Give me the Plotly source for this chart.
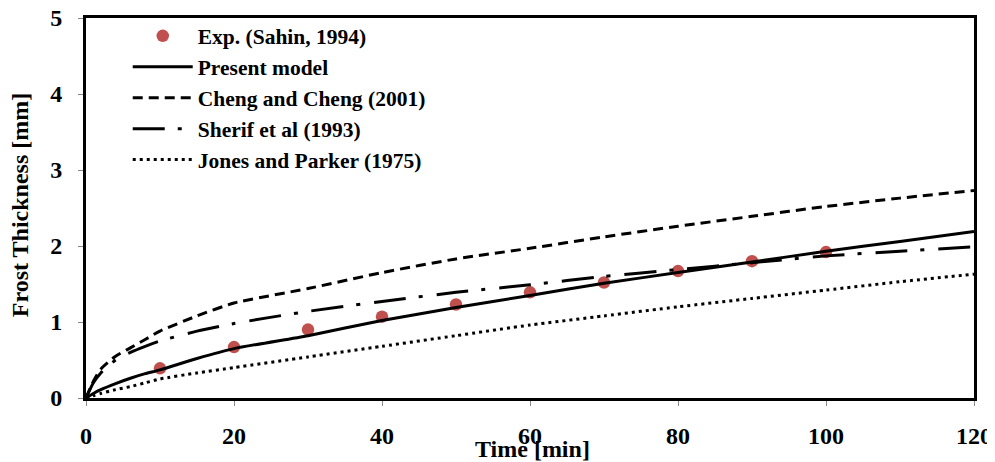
import plotly.graph_objects as go

# ---- data ----
t_exp = [10, 20, 30, 40, 50, 60, 70, 80, 90, 100]
exp_sahin = [0.39, 0.67, 0.90, 1.07, 1.23, 1.39, 1.52, 1.67, 1.80, 1.92]

t_model = [0, 1, 2, 4, 6, 8, 10, 15, 20, 30, 40, 50, 60, 70, 80, 90, 100, 110, 120]
present_model = [0, 0.06, 0.11, 0.19, 0.26, 0.32, 0.37, 0.52, 0.65, 0.82, 1.02, 1.19, 1.35, 1.51, 1.65, 1.79, 1.93, 2.06, 2.19]
cheng_2001 = [0, 0.22, 0.38, 0.55, 0.66, 0.77, 0.88, 1.08, 1.25, 1.44, 1.65, 1.83, 1.97, 2.12, 2.26, 2.39, 2.52, 2.63, 2.73]
sherif_1993 = [0, 0.20, 0.33, 0.50, 0.60, 0.68, 0.75, 0.88, 0.98, 1.14, 1.27, 1.39, 1.49, 1.60, 1.69, 1.78, 1.87, 1.93, 1.99]
jones_1975 = [0, 0.03, 0.06, 0.11, 0.15, 0.20, 0.25, 0.33, 0.40, 0.54, 0.68, 0.82, 0.96, 1.08, 1.20, 1.31, 1.42, 1.53, 1.63]

x_ticks = [0, 20, 40, 60, 80, 100, 120]
y_ticks = [0, 1, 2, 3, 4, 5]

FONT = "Liberation Serif"

fig = go.Figure()
fig.add_trace(go.Scatter(x=t_exp, y=exp_sahin, mode="markers", name="Exp. (Sahin, 1994)",
                         marker=dict(color="#C0504D", size=12.5)))
fig.add_trace(go.Scatter(x=t_model, y=present_model, mode="lines", name="Present model",
                         line=dict(color="black", width=3, shape="spline", smoothing=0.6)))
fig.add_trace(go.Scatter(x=t_model, y=cheng_2001, mode="lines", name="Cheng and Cheng (2001)",
                         line=dict(color="black", width=3, dash="10px,6px", shape="spline", smoothing=0.6)))
fig.add_trace(go.Scatter(x=t_model, y=sherif_1993, mode="lines", name="Sherif et al (1993)",
                         line=dict(color="black", width=3, dash="32px,13px,4px,14px", shape="spline", smoothing=0.6)))
fig.add_trace(go.Scatter(x=t_model, y=jones_1975, mode="lines", name="Jones and Parker (1975)",
                         line=dict(color="black", width=3, dash="3px,4px", shape="spline", smoothing=0.6)))

axis_common = dict(showline=True, linewidth=3, linecolor="black", mirror=True,
                   ticks="outside", ticklen=5, tickwidth=1, tickcolor="#888888",
                   showgrid=False, zeroline=False, automargin=False,
                   ticklabeloverflow="allow",
                   tickfont=dict(family=FONT, size=24, color="black", weight="bold"))

fig.update_xaxes(range=[0, 120], tickvals=x_ticks, ticklabelstandoff=9, **axis_common)
fig.update_yaxes(range=[0, 5], tickvals=y_ticks, ticklabelstandoff=11, **axis_common)

fig.add_annotation(text="Time [min]", xref="paper", yref="paper", x=0.503, y=-0.135,
                   xanchor="center", yanchor="middle", showarrow=False,
                   font=dict(family=FONT, size=24, color="black", weight="bold"))
fig.add_annotation(text="Frost Thickness [mm]", xref="paper", yref="paper", x=-0.074, y=0.508,
                   xanchor="center", yanchor="middle", textangle=-90, showarrow=False,
                   font=dict(family=FONT, size=24, color="black", weight="bold"))

fig.update_layout(
    template="none",
    width=987, height=454,
    margin=dict(l=78, r=21, t=9.5, b=63.5, autoexpand=False),
    plot_bgcolor="white", paper_bgcolor="white",
    legend=dict(x=0.047, y=1.007, xanchor="left", yanchor="top",
                bgcolor="rgba(0,0,0,0)", itemwidth=60,
                font=dict(family=FONT, size=21.5, color="black", weight="bold")),
    showlegend=True,
)

fig.write_html("out.html")
